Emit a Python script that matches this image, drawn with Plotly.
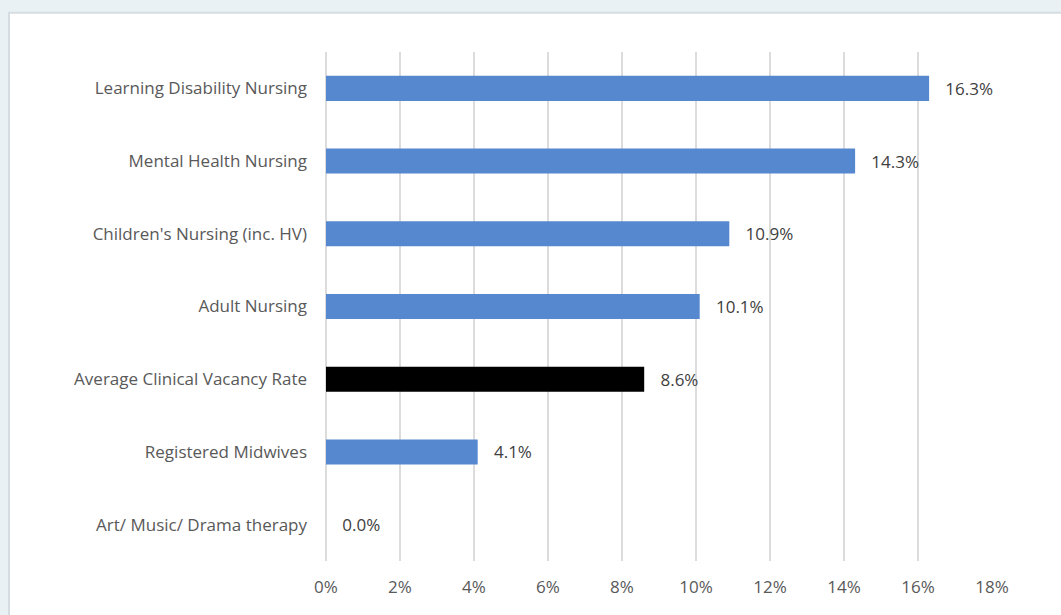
import plotly.graph_objects as go

categories = ['Learning Disability Nursing', 'Mental Health Nursing',
              "Children's Nursing (inc. HV)", 'Adult Nursing',
              'Average Clinical Vacancy Rate', 'Registered Midwives',
              'Art/ Music/ Drama therapy']
rates = [16.3, 14.3, 10.9, 10.1, 8.6, 4.1, 0.0]
highlight = 'Average Clinical Vacancy Rate'

colors = ['#000000' if c == highlight else '#5588cf' for c in categories]
labels = ['   %.1f%%' % v for v in rates]

fig = go.Figure(go.Bar(
    x=[v / 100 for v in rates], y=categories, orientation='h',
    marker=dict(color=colors, line=dict(width=0)),
    width=0.345,
    text=labels, textposition='outside', cliponaxis=False,
    textfont=dict(color='#404040', size=17, family='Open Sans'),
))

# white card behind the chart, as in the source
fig.add_shape(type='rect', xref='paper', yref='paper',
              x0=-0.476, x1=1.3, y0=-0.3, y1=1.077,
              fillcolor='white', line=dict(color='#d5dde2', width=2),
              layer='below')

fig.update_layout(
    width=1061, height=615,
    margin=dict(l=326, r=69, t=52, b=54),
    paper_bgcolor='#eaf1f4', plot_bgcolor='rgba(0,0,0,0)',
    showlegend=False,
    font=dict(family='Open Sans', size=17, color='#595959'),
    xaxis=dict(range=[0, 0.18], dtick=0.02, tickformat='.0%',
               showgrid=True, gridcolor='#dcdcdc', gridwidth=2,
               zeroline=True, zerolinecolor='#dcdcdc', zerolinewidth=2,
               showline=False, ticklabelstandoff=14),
    yaxis=dict(autorange='reversed', showgrid=False, showline=False,
               ticklabelstandoff=18),
)

fig.write_html('out.html', config={'displayModeBar': False},
               post_script="document.body.style.margin='0';"
                           "document.body.style.overflow='hidden';")
